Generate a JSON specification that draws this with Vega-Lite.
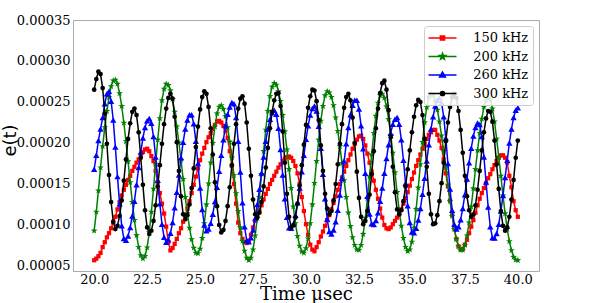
{
"$schema": "https://vega.github.io/schema/vega-lite/v6.json",
"width": 466,
"height": 251,
"autosize": {"type": "none"},
"padding": {"left": 73, "top": 20, "right": 59, "bottom": 32},
"background": "white",
"config": {"view": {"stroke": "#aaaaaa", "strokeWidth": 1}, "font": "DejaVu Serif"},
"data": {"values": [
{"t":20.0,"150 kHz":5.7e-5,"200 kHz":9.3e-5,"260 kHz":16.8e-5,"300 kHz":26.5e-5},
{"t":20.1,"150 kHz":5.9e-5,"200 kHz":11.6e-5,"260 kHz":18.5e-5,"300 kHz":27.8e-5},
{"t":20.2,"150 kHz":6.2e-5,"200 kHz":14.2e-5,"260 kHz":20.3e-5,"300 kHz":28.7e-5},
{"t":20.3,"150 kHz":6.6e-5,"200 kHz":17.0e-5,"260 kHz":21.7e-5,"300 kHz":28.4e-5},
{"t":20.4,"150 kHz":7.3e-5,"200 kHz":19.6e-5,"260 kHz":23.1e-5,"300 kHz":26.7e-5},
{"t":20.5,"150 kHz":7.9e-5,"200 kHz":21.9e-5,"260 kHz":24.8e-5,"300 kHz":23.6e-5},
{"t":20.6,"150 kHz":8.5e-5,"200 kHz":23.9e-5,"260 kHz":26.0e-5,"300 kHz":19.9e-5},
{"t":20.7,"150 kHz":9.0e-5,"200 kHz":25.6e-5,"260 kHz":26.3e-5,"300 kHz":16.1e-5},
{"t":20.8,"150 kHz":9.6e-5,"200 kHz":26.9e-5,"260 kHz":25.1e-5,"300 kHz":12.8e-5},
{"t":20.9,"150 kHz":10.3e-5,"200 kHz":27.6e-5,"260 kHz":22.8e-5,"300 kHz":10.4e-5},
{"t":21.0,"150 kHz":11.0e-5,"200 kHz":27.7e-5,"260 kHz":19.5e-5,"300 kHz":9.5e-5},
{"t":21.1,"150 kHz":11.9e-5,"200 kHz":27.2e-5,"260 kHz":15.9e-5,"300 kHz":9.9e-5},
{"t":21.2,"150 kHz":12.8e-5,"200 kHz":26.05e-5,"260 kHz":12.6e-5,"300 kHz":11.1e-5},
{"t":21.3,"150 kHz":13.6e-5,"200 kHz":24.5e-5,"260 kHz":9.9e-5,"300 kHz":13.0e-5},
{"t":21.4,"150 kHz":14.3e-5,"200 kHz":22.45e-5,"260 kHz":8.35e-5,"300 kHz":15.4e-5},
{"t":21.5,"150 kHz":14.9e-5,"200 kHz":20.2e-5,"260 kHz":8.15e-5,"300 kHz":18.0e-5},
{"t":21.6,"150 kHz":15.5e-5,"200 kHz":17.75e-5,"260 kHz":8.65e-5,"300 kHz":20.5e-5},
{"t":21.7,"150 kHz":16.0e-5,"200 kHz":15.2e-5,"260 kHz":9.7e-5,"300 kHz":22.4e-5},
{"t":21.8,"150 kHz":16.6e-5,"200 kHz":12.8e-5,"260 kHz":11.1e-5,"300 kHz":23.8e-5},
{"t":21.9,"150 kHz":17.1e-5,"200 kHz":10.6e-5,"260 kHz":12.9e-5,"300 kHz":24.2e-5},
{"t":22.0,"150 kHz":17.6e-5,"200 kHz":8.75e-5,"260 kHz":14.9e-5,"300 kHz":23.4e-5},
{"t":22.1,"150 kHz":18.0e-5,"200 kHz":7.3e-5,"260 kHz":17.0e-5,"300 kHz":21.3e-5},
{"t":22.2,"150 kHz":18.5e-5,"200 kHz":6.3e-5,"260 kHz":18.9e-5,"300 kHz":18.2e-5},
{"t":22.3,"150 kHz":18.9e-5,"200 kHz":5.9e-5,"260 kHz":20.6e-5,"300 kHz":14.9e-5},
{"t":22.4,"150 kHz":19.2e-5,"200 kHz":6.2e-5,"260 kHz":21.9e-5,"300 kHz":11.8e-5},
{"t":22.5,"150 kHz":19.3e-5,"200 kHz":7.25e-5,"260 kHz":22.7e-5,"300 kHz":9.7e-5},
{"t":22.6,"150 kHz":19.0e-5,"200 kHz":9.1e-5,"260 kHz":23.0e-5,"300 kHz":8.9e-5},
{"t":22.7,"150 kHz":18.4e-5,"200 kHz":11.6e-5,"260 kHz":22.4e-5,"300 kHz":9.3e-5},
{"t":22.8,"150 kHz":17.8e-5,"200 kHz":14.4e-5,"260 kHz":20.8e-5,"300 kHz":10.5e-5},
{"t":22.9,"150 kHz":16.6e-5,"200 kHz":17.45e-5,"260 kHz":18.3e-5,"300 kHz":12.4e-5},
{"t":23.0,"150 kHz":15.2e-5,"200 kHz":20.4e-5,"260 kHz":15.45e-5,"300 kHz":14.7e-5},
{"t":23.1,"150 kHz":13.9e-5,"200 kHz":23.0e-5,"260 kHz":12.6e-5,"300 kHz":17.3e-5},
{"t":23.2,"150 kHz":12.6e-5,"200 kHz":25.2e-5,"260 kHz":10.1e-5,"300 kHz":19.9e-5},
{"t":23.3,"150 kHz":11.4e-5,"200 kHz":26.6e-5,"260 kHz":8.5e-5,"300 kHz":22.3e-5},
{"t":23.4,"150 kHz":9.8e-5,"200 kHz":27.2e-5,"260 kHz":7.9e-5,"300 kHz":24.2e-5},
{"t":23.5,"150 kHz":7.9e-5,"200 kHz":27.05e-5,"260 kHz":8.2e-5,"300 kHz":25.5e-5},
{"t":23.6,"150 kHz":6.9e-5,"200 kHz":26.4e-5,"260 kHz":9.0e-5,"300 kHz":26.0e-5},
{"t":23.7,"150 kHz":7.2e-5,"200 kHz":25.35e-5,"260 kHz":10.3e-5,"300 kHz":25.4e-5},
{"t":23.8,"150 kHz":7.7e-5,"200 kHz":23.8e-5,"260 kHz":12.1e-5,"300 kHz":23.2e-5},
{"t":23.9,"150 kHz":8.3e-5,"200 kHz":22.0e-5,"260 kHz":14.0e-5,"300 kHz":20.1e-5},
{"t":24.0,"150 kHz":9.0e-5,"200 kHz":20.05e-5,"260 kHz":16.1e-5,"300 kHz":16.6e-5},
{"t":24.1,"150 kHz":9.6e-5,"200 kHz":17.9e-5,"260 kHz":18.2e-5,"300 kHz":13.5e-5},
{"t":24.2,"150 kHz":10.4e-5,"200 kHz":15.6e-5,"260 kHz":20.1e-5,"300 kHz":11.3e-5},
{"t":24.3,"150 kHz":11.2e-5,"200 kHz":13.4e-5,"260 kHz":21.7e-5,"300 kHz":10.7e-5},
{"t":24.4,"150 kHz":12.0e-5,"200 kHz":11.4e-5,"260 kHz":22.8e-5,"300 kHz":11.2e-5},
{"t":24.5,"150 kHz":12.9e-5,"200 kHz":9.65e-5,"260 kHz":23.45e-5,"300 kHz":12.5e-5},
{"t":24.6,"150 kHz":13.9e-5,"200 kHz":8.25e-5,"260 kHz":23.45e-5,"300 kHz":14.5e-5},
{"t":24.7,"150 kHz":14.9e-5,"200 kHz":7.2e-5,"260 kHz":22.35e-5,"300 kHz":16.9e-5},
{"t":24.8,"150 kHz":15.9e-5,"200 kHz":6.6e-5,"260 kHz":20.2e-5,"300 kHz":19.5e-5},
{"t":24.9,"150 kHz":16.9e-5,"200 kHz":6.55e-5,"260 kHz":17.5e-5,"300 kHz":22.0e-5},
{"t":25.0,"150 kHz":17.9e-5,"200 kHz":7.1e-5,"260 kHz":14.5e-5,"300 kHz":24.1e-5},
{"t":25.1,"150 kHz":18.7e-5,"200 kHz":8.4e-5,"260 kHz":11.9e-5,"300 kHz":25.6e-5},
{"t":25.2,"150 kHz":19.4e-5,"200 kHz":10.2e-5,"260 kHz":10.0e-5,"300 kHz":26.3e-5},
{"t":25.3,"150 kHz":20.1e-5,"200 kHz":12.5e-5,"260 kHz":9.3e-5,"300 kHz":26.0e-5},
{"t":25.4,"150 kHz":20.7e-5,"200 kHz":15.05e-5,"260 kHz":9.5e-5,"300 kHz":24.4e-5},
{"t":25.5,"150 kHz":21.2e-5,"200 kHz":17.6e-5,"260 kHz":10.2e-5,"300 kHz":21.8e-5},
{"t":25.6,"150 kHz":21.7e-5,"200 kHz":20.0e-5,"260 kHz":11.3e-5,"300 kHz":18.6e-5},
{"t":25.7,"150 kHz":22.2e-5,"200 kHz":22.0e-5,"260 kHz":12.85e-5,"300 kHz":15.2e-5},
{"t":25.8,"150 kHz":22.6e-5,"200 kHz":23.6e-5,"260 kHz":14.6e-5,"300 kHz":12.3e-5},
{"t":25.9,"150 kHz":22.7e-5,"200 kHz":24.4e-5,"260 kHz":16.55e-5,"300 kHz":10.0e-5},
{"t":26.0,"150 kHz":22.5e-5,"200 kHz":24.6e-5,"260 kHz":18.5e-5,"300 kHz":9.1e-5},
{"t":26.1,"150 kHz":22.1e-5,"200 kHz":24.15e-5,"260 kHz":20.4e-5,"300 kHz":9.4e-5},
{"t":26.2,"150 kHz":21.5e-5,"200 kHz":23.25e-5,"260 kHz":22.1e-5,"300 kHz":10.5e-5},
{"t":26.3,"150 kHz":20.6e-5,"200 kHz":21.9e-5,"260 kHz":23.5e-5,"300 kHz":12.3e-5},
{"t":26.4,"150 kHz":19.0e-5,"200 kHz":20.15e-5,"260 kHz":24.4e-5,"300 kHz":14.6e-5},
{"t":26.5,"150 kHz":17.2e-5,"200 kHz":18.2e-5,"260 kHz":24.95e-5,"300 kHz":17.3e-5},
{"t":26.6,"150 kHz":15.0e-5,"200 kHz":16.05e-5,"260 kHz":24.8e-5,"300 kHz":19.9e-5},
{"t":26.7,"150 kHz":12.6e-5,"200 kHz":13.85e-5,"260 kHz":23.1e-5,"300 kHz":22.3e-5},
{"t":26.8,"150 kHz":10.3e-5,"200 kHz":11.7e-5,"260 kHz":20.2e-5,"300 kHz":24.2e-5},
{"t":26.9,"150 kHz":9.0e-5,"200 kHz":9.7e-5,"260 kHz":16.45e-5,"300 kHz":25.4e-5},
{"t":27.0,"150 kHz":8.3e-5,"200 kHz":8.05e-5,"260 kHz":12.7e-5,"300 kHz":25.7e-5},
{"t":27.1,"150 kHz":7.9e-5,"200 kHz":6.85e-5,"260 kHz":9.8e-5,"300 kHz":24.8e-5},
{"t":27.2,"150 kHz":7.8e-5,"200 kHz":6.0e-5,"260 kHz":8.1e-5,"300 kHz":22.5e-5},
{"t":27.3,"150 kHz":8.1e-5,"200 kHz":5.7e-5,"260 kHz":7.95e-5,"300 kHz":19.3e-5},
{"t":27.4,"150 kHz":8.8e-5,"200 kHz":6.0e-5,"260 kHz":8.45e-5,"300 kHz":16.0e-5},
{"t":27.5,"150 kHz":9.7e-5,"200 kHz":7.0e-5,"260 kHz":9.4e-5,"300 kHz":13.1e-5},
{"t":27.6,"150 kHz":10.5e-5,"200 kHz":8.7e-5,"260 kHz":10.8e-5,"300 kHz":11.3e-5},
{"t":27.7,"150 kHz":11.2e-5,"200 kHz":10.85e-5,"260 kHz":12.5e-5,"300 kHz":10.9e-5},
{"t":27.8,"150 kHz":11.8e-5,"200 kHz":13.4e-5,"260 kHz":14.35e-5,"300 kHz":11.5e-5},
{"t":27.9,"150 kHz":12.4e-5,"200 kHz":16.2e-5,"260 kHz":16.35e-5,"300 kHz":12.8e-5},
{"t":28.0,"150 kHz":13.1e-5,"200 kHz":19.0e-5,"260 kHz":18.3e-5,"300 kHz":14.7e-5},
{"t":28.1,"150 kHz":13.8e-5,"200 kHz":21.6e-5,"260 kHz":20.2e-5,"300 kHz":17.0e-5},
{"t":28.2,"150 kHz":14.4e-5,"200 kHz":23.9e-5,"260 kHz":21.7e-5,"300 kHz":19.4e-5},
{"t":28.3,"150 kHz":15.0e-5,"200 kHz":25.7e-5,"260 kHz":22.9e-5,"300 kHz":21.8e-5},
{"t":28.4,"150 kHz":15.5e-5,"200 kHz":26.85e-5,"260 kHz":23.7e-5,"300 kHz":23.8e-5},
{"t":28.5,"150 kHz":16.0e-5,"200 kHz":27.3e-5,"260 kHz":24.0e-5,"300 kHz":25.2e-5},
{"t":28.6,"150 kHz":16.5e-5,"200 kHz":27.1e-5,"260 kHz":23.5e-5,"300 kHz":26.0e-5},
{"t":28.7,"150 kHz":17.0e-5,"200 kHz":26.3e-5,"260 kHz":21.8e-5,"300 kHz":26.1e-5},
{"t":28.8,"150 kHz":17.4e-5,"200 kHz":25.1e-5,"260 kHz":19.2e-5,"300 kHz":24.5e-5},
{"t":28.9,"150 kHz":17.8e-5,"200 kHz":23.4e-5,"260 kHz":16.1e-5,"300 kHz":21.4e-5},
{"t":29.0,"150 kHz":18.1e-5,"200 kHz":21.4e-5,"260 kHz":13.2e-5,"300 kHz":17.6e-5},
{"t":29.1,"150 kHz":18.3e-5,"200 kHz":19.2e-5,"260 kHz":10.95e-5,"300 kHz":13.8e-5},
{"t":29.2,"150 kHz":18.35e-5,"200 kHz":16.8e-5,"260 kHz":9.65e-5,"300 kHz":11.0e-5},
{"t":29.3,"150 kHz":18.2e-5,"200 kHz":14.5e-5,"260 kHz":9.6e-5,"300 kHz":9.7e-5},
{"t":29.4,"150 kHz":17.8e-5,"200 kHz":12.25e-5,"260 kHz":10.1e-5,"300 kHz":9.95e-5},
{"t":29.5,"150 kHz":17.2e-5,"200 kHz":10.2e-5,"260 kHz":11.2e-5,"300 kHz":10.9e-5},
{"t":29.6,"150 kHz":16.3e-5,"200 kHz":8.65e-5,"260 kHz":12.7e-5,"300 kHz":12.6e-5},
{"t":29.7,"150 kHz":15.0e-5,"200 kHz":7.45e-5,"260 kHz":14.5e-5,"300 kHz":14.8e-5},
{"t":29.8,"150 kHz":13.4e-5,"200 kHz":6.75e-5,"260 kHz":16.5e-5,"300 kHz":17.3e-5},
{"t":29.9,"150 kHz":11.7e-5,"200 kHz":6.6e-5,"260 kHz":18.5e-5,"300 kHz":19.8e-5},
{"t":30.0,"150 kHz":10.1e-5,"200 kHz":7.15e-5,"260 kHz":20.45e-5,"300 kHz":22.2e-5},
{"t":30.1,"150 kHz":8.8e-5,"200 kHz":8.35e-5,"260 kHz":22.1e-5,"300 kHz":24.3e-5},
{"t":30.2,"150 kHz":7.6e-5,"200 kHz":10.2e-5,"260 kHz":23.4e-5,"300 kHz":25.7e-5},
{"t":30.3,"150 kHz":7.0e-5,"200 kHz":12.5e-5,"260 kHz":24.2e-5,"300 kHz":26.5e-5},
{"t":30.4,"150 kHz":6.8e-5,"200 kHz":15.1e-5,"260 kHz":24.5e-5,"300 kHz":26.4e-5},
{"t":30.5,"150 kHz":7.3e-5,"200 kHz":17.8e-5,"260 kHz":23.9e-5,"300 kHz":25.1e-5},
{"t":30.6,"150 kHz":7.9e-5,"200 kHz":20.4e-5,"260 kHz":22.05e-5,"300 kHz":22.8e-5},
{"t":30.7,"150 kHz":8.6e-5,"200 kHz":22.7e-5,"260 kHz":19.35e-5,"300 kHz":19.7e-5},
{"t":30.8,"150 kHz":9.2e-5,"200 kHz":24.5e-5,"260 kHz":16.2e-5,"300 kHz":16.6e-5},
{"t":30.9,"150 kHz":9.9e-5,"200 kHz":25.8e-5,"260 kHz":13.2e-5,"300 kHz":13.8e-5},
{"t":31.0,"150 kHz":10.6e-5,"200 kHz":26.3e-5,"260 kHz":10.7e-5,"300 kHz":12.0e-5},
{"t":31.1,"150 kHz":11.2e-5,"200 kHz":26.15e-5,"260 kHz":9.2e-5,"300 kHz":11.3e-5},
{"t":31.2,"150 kHz":11.9e-5,"200 kHz":25.6e-5,"260 kHz":8.9e-5,"300 kHz":11.7e-5},
{"t":31.3,"150 kHz":12.7e-5,"200 kHz":24.6e-5,"260 kHz":9.4e-5,"300 kHz":13.0e-5},
{"t":31.4,"150 kHz":13.5e-5,"200 kHz":23.1e-5,"260 kHz":10.4e-5,"300 kHz":15.0e-5},
{"t":31.5,"150 kHz":14.3e-5,"200 kHz":21.45e-5,"260 kHz":11.8e-5,"300 kHz":17.4e-5},
{"t":31.6,"150 kHz":15.0e-5,"200 kHz":19.6e-5,"260 kHz":13.65e-5,"300 kHz":19.9e-5},
{"t":31.7,"150 kHz":15.8e-5,"200 kHz":17.55e-5,"260 kHz":15.7e-5,"300 kHz":22.3e-5},
{"t":31.8,"150 kHz":16.5e-5,"200 kHz":15.45e-5,"260 kHz":17.8e-5,"300 kHz":24.3e-5},
{"t":31.9,"150 kHz":17.2e-5,"200 kHz":13.4e-5,"260 kHz":19.9e-5,"300 kHz":25.6e-5},
{"t":32.0,"150 kHz":17.9e-5,"200 kHz":11.5e-5,"260 kHz":21.9e-5,"300 kHz":26.0e-5},
{"t":32.1,"150 kHz":18.6e-5,"200 kHz":9.85e-5,"260 kHz":23.45e-5,"300 kHz":25.2e-5},
{"t":32.2,"150 kHz":19.3e-5,"200 kHz":8.5e-5,"260 kHz":24.6e-5,"300 kHz":23.1e-5},
{"t":32.3,"150 kHz":19.9e-5,"200 kHz":7.55e-5,"260 kHz":25.2e-5,"300 kHz":20.0e-5},
{"t":32.4,"150 kHz":20.4e-5,"200 kHz":7.0e-5,"260 kHz":25.2e-5,"300 kHz":16.5e-5},
{"t":32.5,"150 kHz":20.8e-5,"200 kHz":6.95e-5,"260 kHz":24.15e-5,"300 kHz":13.3e-5},
{"t":32.6,"150 kHz":20.9e-5,"200 kHz":7.55e-5,"260 kHz":22.1e-5,"300 kHz":11.0e-5},
{"t":32.7,"150 kHz":20.5e-5,"200 kHz":8.9e-5,"260 kHz":19.3e-5,"300 kHz":10.1e-5},
{"t":32.8,"150 kHz":19.7e-5,"200 kHz":10.85e-5,"260 kHz":16.3e-5,"300 kHz":10.5e-5},
{"t":32.9,"150 kHz":18.7e-5,"200 kHz":13.25e-5,"260 kHz":13.5e-5,"300 kHz":11.7e-5},
{"t":33.0,"150 kHz":17.6e-5,"200 kHz":15.9e-5,"260 kHz":11.35e-5,"300 kHz":13.7e-5},
{"t":33.1,"150 kHz":16.5e-5,"200 kHz":18.6e-5,"260 kHz":10.15e-5,"300 kHz":16.2e-5},
{"t":33.2,"150 kHz":15.4e-5,"200 kHz":21.2e-5,"260 kHz":10.05e-5,"300 kHz":19.0e-5},
{"t":33.3,"150 kHz":14.3e-5,"200 kHz":23.3e-5,"260 kHz":10.55e-5,"300 kHz":21.8e-5},
{"t":33.4,"150 kHz":13.2e-5,"200 kHz":24.9e-5,"260 kHz":11.5e-5,"300 kHz":24.2e-5},
{"t":33.5,"150 kHz":12.0e-5,"200 kHz":25.8e-5,"260 kHz":12.9e-5,"300 kHz":26.1e-5},
{"t":33.6,"150 kHz":10.9e-5,"200 kHz":26.0e-5,"260 kHz":14.5e-5,"300 kHz":27.3e-5},
{"t":33.7,"150 kHz":10.0e-5,"200 kHz":25.5e-5,"260 kHz":16.3e-5,"300 kHz":27.6e-5},
{"t":33.8,"150 kHz":9.6e-5,"200 kHz":24.45e-5,"260 kHz":18.1e-5,"300 kHz":26.5e-5},
{"t":33.9,"150 kHz":9.5e-5,"200 kHz":22.9e-5,"260 kHz":19.8e-5,"300 kHz":24.0e-5},
{"t":34.0,"150 kHz":9.7e-5,"200 kHz":20.95e-5,"260 kHz":21.2e-5,"300 kHz":20.7e-5},
{"t":34.1,"150 kHz":10.1e-5,"200 kHz":18.8e-5,"260 kHz":22.3e-5,"300 kHz":17.1e-5},
{"t":34.2,"150 kHz":10.5e-5,"200 kHz":16.4e-5,"260 kHz":22.9e-5,"300 kHz":14.0e-5},
{"t":34.3,"150 kHz":10.9e-5,"200 kHz":14.0e-5,"260 kHz":23.1e-5,"300 kHz":11.9e-5},
{"t":34.4,"150 kHz":11.3e-5,"200 kHz":11.8e-5,"260 kHz":22.3e-5,"300 kHz":11.3e-5},
{"t":34.5,"150 kHz":11.9e-5,"200 kHz":9.9e-5,"260 kHz":20.4e-5,"300 kHz":11.8e-5},
{"t":34.6,"150 kHz":12.6e-5,"200 kHz":8.4e-5,"260 kHz":17.9e-5,"300 kHz":12.9e-5},
{"t":34.7,"150 kHz":13.3e-5,"200 kHz":7.3e-5,"260 kHz":15.1e-5,"300 kHz":14.7e-5},
{"t":34.8,"150 kHz":14.0e-5,"200 kHz":6.8e-5,"260 kHz":12.35e-5,"300 kHz":16.8e-5},
{"t":34.9,"150 kHz":14.8e-5,"200 kHz":7.0e-5,"260 kHz":10.3e-5,"300 kHz":19.1e-5},
{"t":35.0,"150 kHz":15.6e-5,"200 kHz":7.95e-5,"260 kHz":9.15e-5,"300 kHz":21.3e-5},
{"t":35.1,"150 kHz":16.4e-5,"200 kHz":9.65e-5,"260 kHz":9.05e-5,"300 kHz":23.2e-5},
{"t":35.2,"150 kHz":17.2e-5,"200 kHz":11.95e-5,"260 kHz":9.6e-5,"300 kHz":24.6e-5},
{"t":35.3,"150 kHz":17.9e-5,"200 kHz":14.55e-5,"260 kHz":10.6e-5,"300 kHz":25.25e-5},
{"t":35.4,"150 kHz":18.6e-5,"200 kHz":17.4e-5,"260 kHz":12.0e-5,"300 kHz":25.0e-5},
{"t":35.5,"150 kHz":19.3e-5,"200 kHz":20.1e-5,"260 kHz":13.75e-5,"300 kHz":23.4e-5},
{"t":35.6,"150 kHz":19.9e-5,"200 kHz":22.5e-5,"260 kHz":15.7e-5,"300 kHz":20.5e-5},
{"t":35.7,"150 kHz":20.5e-5,"200 kHz":24.35e-5,"260 kHz":17.8e-5,"300 kHz":17.1e-5},
{"t":35.8,"150 kHz":21.0e-5,"200 kHz":25.6e-5,"260 kHz":19.8e-5,"300 kHz":13.8e-5},
{"t":35.9,"150 kHz":21.3e-5,"200 kHz":26.0e-5,"260 kHz":21.7e-5,"300 kHz":11.3e-5},
{"t":36.0,"150 kHz":21.6e-5,"200 kHz":25.8e-5,"260 kHz":23.2e-5,"300 kHz":10.1e-5},
{"t":36.1,"150 kHz":21.6e-5,"200 kHz":25.1e-5,"260 kHz":24.5e-5,"300 kHz":10.2e-5},
{"t":36.2,"150 kHz":21.0e-5,"200 kHz":24.05e-5,"260 kHz":25.2e-5,"300 kHz":11.2e-5},
{"t":36.3,"150 kHz":20.3e-5,"200 kHz":22.6e-5,"260 kHz":25.5e-5,"300 kHz":12.9e-5},
{"t":36.4,"150 kHz":19.4e-5,"200 kHz":20.9e-5,"260 kHz":24.9e-5,"300 kHz":15.1e-5},
{"t":36.5,"150 kHz":18.0e-5,"200 kHz":19.0e-5,"260 kHz":23.2e-5,"300 kHz":17.6e-5},
{"t":36.6,"150 kHz":16.3e-5,"200 kHz":17.0e-5,"260 kHz":20.6e-5,"300 kHz":20.2e-5},
{"t":36.7,"150 kHz":14.7e-5,"200 kHz":14.9e-5,"260 kHz":17.5e-5,"300 kHz":22.5e-5},
{"t":36.8,"150 kHz":13.0e-5,"200 kHz":12.9e-5,"260 kHz":14.4e-5,"300 kHz":24.4e-5},
{"t":36.9,"150 kHz":11.2e-5,"200 kHz":11.1e-5,"260 kHz":11.8e-5,"300 kHz":25.6e-5},
{"t":37.0,"150 kHz":9.6e-5,"200 kHz":9.5e-5,"260 kHz":10.1e-5,"300 kHz":26.0e-5},
{"t":37.1,"150 kHz":8.3e-5,"200 kHz":8.25e-5,"260 kHz":9.5e-5,"300 kHz":25.5e-5},
{"t":37.2,"150 kHz":7.4e-5,"200 kHz":7.4e-5,"260 kHz":9.8e-5,"300 kHz":23.9e-5},
{"t":37.3,"150 kHz":7.0e-5,"200 kHz":6.95e-5,"260 kHz":10.65e-5,"300 kHz":21.6e-5},
{"t":37.4,"150 kHz":7.1e-5,"200 kHz":6.95e-5,"260 kHz":12.0e-5,"300 kHz":18.8e-5},
{"t":37.5,"150 kHz":7.6e-5,"200 kHz":7.55e-5,"260 kHz":13.7e-5,"300 kHz":16.0e-5},
{"t":37.6,"150 kHz":8.2e-5,"200 kHz":8.7e-5,"260 kHz":15.6e-5,"300 kHz":13.5e-5},
{"t":37.7,"150 kHz":9.0e-5,"200 kHz":10.3e-5,"260 kHz":17.6e-5,"300 kHz":11.8e-5},
{"t":37.8,"150 kHz":9.8e-5,"200 kHz":12.25e-5,"260 kHz":19.35e-5,"300 kHz":11.0e-5},
{"t":37.9,"150 kHz":10.6e-5,"200 kHz":14.45e-5,"260 kHz":20.85e-5,"300 kHz":11.3e-5},
{"t":38.0,"150 kHz":11.5e-5,"200 kHz":16.8e-5,"260 kHz":21.9e-5,"300 kHz":12.4e-5},
{"t":38.1,"150 kHz":12.4e-5,"200 kHz":19.1e-5,"260 kHz":22.45e-5,"300 kHz":14.3e-5},
{"t":38.2,"150 kHz":13.2e-5,"200 kHz":21.2e-5,"260 kHz":22.25e-5,"300 kHz":16.6e-5},
{"t":38.3,"150 kHz":13.9e-5,"200 kHz":22.95e-5,"260 kHz":20.8e-5,"300 kHz":19.1e-5},
{"t":38.4,"150 kHz":14.5e-5,"200 kHz":24.4e-5,"260 kHz":18.3e-5,"300 kHz":21.3e-5},
{"t":38.5,"150 kHz":15.1e-5,"200 kHz":25.2e-5,"260 kHz":15.25e-5,"300 kHz":23.0e-5},
{"t":38.6,"150 kHz":15.7e-5,"200 kHz":25.5e-5,"260 kHz":12.2e-5,"300 kHz":23.9e-5},
{"t":38.7,"150 kHz":16.2e-5,"200 kHz":25.25e-5,"260 kHz":9.8e-5,"300 kHz":23.8e-5},
{"t":38.8,"150 kHz":16.8e-5,"200 kHz":24.2e-5,"260 kHz":8.45e-5,"300 kHz":22.6e-5},
{"t":38.9,"150 kHz":17.3e-5,"200 kHz":22.6e-5,"260 kHz":8.4e-5,"300 kHz":20.3e-5},
{"t":39.0,"150 kHz":17.8e-5,"200 kHz":20.5e-5,"260 kHz":8.95e-5,"300 kHz":17.4e-5},
{"t":39.1,"150 kHz":18.2e-5,"200 kHz":18.3e-5,"260 kHz":10.1e-5,"300 kHz":14.4e-5},
{"t":39.2,"150 kHz":18.5e-5,"200 kHz":16.0e-5,"260 kHz":11.7e-5,"300 kHz":11.7e-5},
{"t":39.3,"150 kHz":18.5e-5,"200 kHz":13.6e-5,"260 kHz":13.6e-5,"300 kHz":9.9e-5},
{"t":39.4,"150 kHz":18.2e-5,"200 kHz":11.4e-5,"260 kHz":15.8e-5,"300 kHz":9.3e-5},
{"t":39.5,"150 kHz":17.6e-5,"200 kHz":9.5e-5,"260 kHz":17.9e-5,"300 kHz":9.7e-5},
{"t":39.6,"150 kHz":16.0e-5,"200 kHz":8.0e-5,"260 kHz":20.0e-5,"300 kHz":11.0e-5},
{"t":39.7,"150 kHz":14.6e-5,"200 kHz":6.9e-5,"260 kHz":21.7e-5,"300 kHz":13.1e-5},
{"t":39.8,"150 kHz":12.9e-5,"200 kHz":6.1e-5,"260 kHz":23.1e-5,"300 kHz":15.5e-5},
{"t":39.9,"150 kHz":11.8e-5,"200 kHz":5.75e-5,"260 kHz":24.0e-5,"300 kHz":18.2e-5},
{"t":40.0,"150 kHz":11.0e-5,"200 kHz":5.7e-5,"260 kHz":24.3e-5,"300 kHz":20.3e-5}
]},
"transform": [{"fold": ["150 kHz", "200 kHz", "260 kHz", "300 kHz"], "as": ["series", "e"]}],
"encoding": {
  "x": {"field": "t", "type": "quantitative",
    "scale": {"domain": [19, 41], "nice": false, "zero": false},
    "axis": {"values": [20, 22.5, 25, 27.5, 30, 32.5, 35, 37.5, 40], "format": ".1f",
      "labelFont": "DejaVu Serif", "labelFontSize": 13, "labelColor": "#000000", "labelPadding": 2, "labelFlush": false,
      "ticks": false, "domain": false, "grid": false,
      "title": "Time μsec", "titleFont": "DejaVu Serif", "titleFontSize": 18, "titleFontWeight": "normal", "titleColor": "#000000",
      "titleX": 233, "titleY": 28, "titleBaseline": "alphabetic", "titleAlign": "center"}},
  "y": {"field": "e", "type": "quantitative",
    "scale": {"domain": [0.0000439, 0.00035], "nice": false, "zero": false},
    "axis": {"values": [0.00005, 0.0001, 0.00015, 0.0002, 0.00025, 0.0003, 0.00035], "format": ".5f",
      "labelFont": "DejaVu Serif", "labelFontSize": 13, "labelColor": "#000000", "labelPadding": 3, "labelFlush": false,
      "ticks": false, "domain": false, "grid": false,
      "title": "e(t)", "titleFont": "DejaVu Sans", "titleFontSize": 18, "titleFontWeight": "normal", "titleColor": "#000000",
      "titleAngle": -90, "titleX": -58, "titleY": 120, "titleBaseline": "alphabetic", "titleAlign": "center"}},
  "color": {"field": "series", "type": "nominal",
    "scale": {"domain": ["150 kHz", "200 kHz", "260 kHz", "300 kHz"], "range": ["#ff0000", "#008000", "#0000ff", "#000000"]},
    "legend": {"title": null, "orient": "top-right", "offset": 6, "padding": 4,
      "fillColor": "rgba(255,255,255,0.85)", "strokeColor": "#cccccc", "cornerRadius": 3,
      "labelFont": "DejaVu Serif", "labelFontSize": 13, "labelColor": "#000000",
      "symbolSize": 196, "symbolStrokeWidth": 1.5, "symbolOffset": 6.5, "labelOffset": 22.7, "rowPadding": 3.5,
      "encode": {"symbols": {"update": {
        "shape": {"signal": "datum.value === '150 kHz' ? 'M-2,0L2,0M-0.3,-0.3L0.3,-0.3L0.3,0.3L-0.3,0.3Z' : datum.value === '200 kHz' ? 'M-2,0L2,0M0,-0.45L0.106,-0.146L0.428,-0.139L0.171,0.056L0.265,0.364L0,0.18L-0.265,0.364L-0.171,0.056L-0.428,-0.139L-0.106,-0.146Z' : datum.value === '260 kHz' ? 'M-2,0L2,0M0,-0.42L0.42,0.3L-0.42,0.3Z' : 'M-2,0L2,0M0.3,0A0.3,0.3,0,1,1,-0.3,0A0.3,0.3,0,1,1,0.3,0Z'"},
        "size": {"value": 196},
        "fill": {"scale": "color", "field": "value"},
        "stroke": {"scale": "color", "field": "value"},
        "strokeWidth": {"value": 1.5},
        "opacity": {"value": 1}}}}}}
},
"layer": [
  {"transform": [{"filter": "datum.series === '150 kHz'"}], "mark": {"type": "line", "strokeWidth": 1.5}},
  {"transform": [{"filter": "datum.series === '150 kHz'"}], "mark": {"type": "point", "shape": "square", "filled": true, "size": 18, "opacity": 1}},
  {"transform": [{"filter": "datum.series === '200 kHz'"}], "mark": {"type": "line", "strokeWidth": 1.5}},
  {"transform": [{"filter": "datum.series === '200 kHz'"}], "mark": {"type": "point", "shape": "M0,-1L0.235,-0.324L0.951,-0.309L0.38,0.124L0.588,0.809L0,0.4L-0.588,0.809L-0.38,0.124L-0.951,-0.309L-0.235,-0.324Z", "filled": true, "size": 50, "opacity": 1}},
  {"transform": [{"filter": "datum.series === '260 kHz'"}], "mark": {"type": "line", "strokeWidth": 1.5}},
  {"transform": [{"filter": "datum.series === '260 kHz'"}], "mark": {"type": "point", "shape": "triangle-up", "filled": true, "size": 40, "opacity": 1}},
  {"transform": [{"filter": "datum.series === '300 kHz'"}], "mark": {"type": "line", "strokeWidth": 1.5}},
  {"transform": [{"filter": "datum.series === '300 kHz'"}], "mark": {"type": "point", "shape": "circle", "filled": true, "size": 22, "opacity": 1}}
]
}
